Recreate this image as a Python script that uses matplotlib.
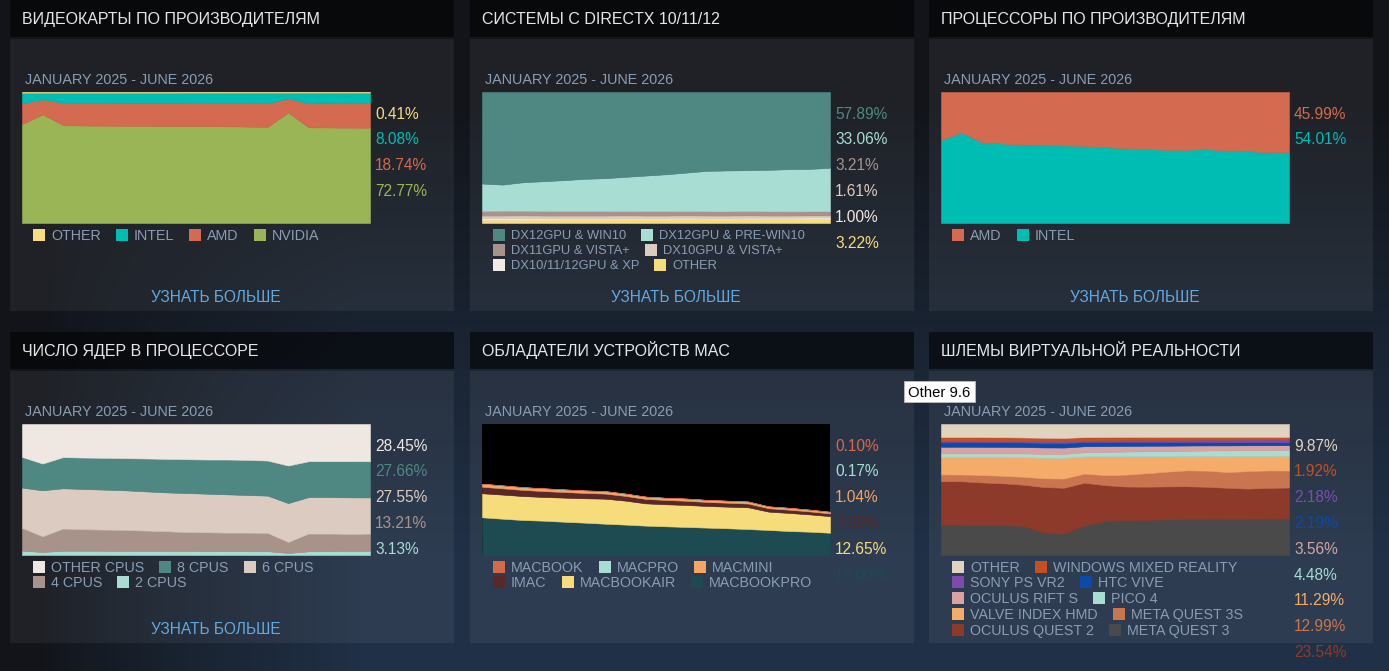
import numpy as np
import matplotlib.pyplot as plt
from matplotlib.patches import Rectangle

W, H = 1389, 671
months = np.arange(18)  # January 2025 ... June 2026, one point per month

# ---- ВИДЕОКАРТЫ ПО ПРОИЗВОДИТЕЛЯМ (legend order = top of stack first)
gpu_names = ['OTHER', 'INTEL', 'AMD', 'NVIDIA']
gpu_colors = ['#f7dc82', '#00bdb4', '#d46a4f', '#9ab555']
gpu_other = [0.5, 0.5, 0.5, 0.5, 0.5, 0.5, 0.5, 0.5, 0.4, 0.4, 0.4, 0.4, 0.4, 0.4, 0.4, 0.4, 0.4, 0.41]
gpu_intel = [8.2, 5.1, 7.7, 7.8, 7.8, 7.9, 7.9, 7.9, 8.1, 8.1, 8.1, 8.1, 8.2, 4.4, 8.3, 8.2, 8.2, 8.08]
gpu_amd = [15.8, 11.5, 17.0, 17.3, 17.4, 17.4, 17.4, 17.5, 17.5, 17.5, 17.7, 17.9, 18.0, 10.9, 18.3, 18.5, 18.6, 18.74]
gpu_nvidia = [75.5, 82.9, 74.8, 74.4, 74.3, 74.2, 74.2, 74.1, 74.0, 74.0, 73.8, 73.6, 73.4, 84.3, 73.0, 72.9, 72.8, 72.77]

# ---- СИСТЕМЫ С DIRECTX 10/11/12
dx_names = ['DX12GPU & WIN10', 'DX12GPU & PRE-WIN10', 'DX11GPU & VISTA+',
            'DX10GPU & VISTA+', 'DX10/11/12GPU & XP', 'OTHER']
dx_colors = ['#4f8882', '#a8ddd4', '#a8938a', '#dccbc0', '#f0e9e4', '#f7dc7c']
dx_win10 = [69.9, 70.7, 68.9, 68.1, 67.3, 66.3, 65.8, 64.8, 63.8, 62.8, 61.5, 60.2, 59.9, 59.7, 59.4, 58.9, 58.7, 57.89]
dx_prewin10 = [20.8, 19.9, 21.7, 22.6, 23.5, 24.5, 25.0, 26.0, 27.1, 28.1, 29.3, 30.8, 31.1, 31.2, 31.6, 32.2, 32.3, 33.06]
dx_dx11 = [3.6, 3.7, 3.6, 3.6, 3.5, 3.5, 3.5, 3.4, 3.4, 3.4, 3.4, 3.3, 3.3, 3.3, 3.3, 3.2, 3.2, 3.21]
dx_dx10 = [1.9, 1.9, 1.9, 1.8, 1.8, 1.8, 1.8, 1.8, 1.7, 1.7, 1.7, 1.7, 1.7, 1.7, 1.6, 1.6, 1.6, 1.61]
dx_xp = [1.2, 1.2, 1.2, 1.2, 1.1, 1.1, 1.1, 1.1, 1.1, 1.1, 1.1, 1.0, 1.0, 1.0, 1.0, 1.0, 1.0, 1.00]
dx_other = [2.6, 2.6, 2.7, 2.7, 2.8, 2.8, 2.8, 2.9, 2.9, 2.9, 3.0, 3.0, 3.0, 3.1, 3.1, 3.1, 3.2, 3.22]

# ---- ПРОЦЕССОРЫ ПО ПРОИЗВОДИТЕЛЯМ
cpu_names = ['AMD', 'INTEL']
cpu_colors = ['#d46a4f', '#00bdb4']
cpu_amd = [36.7, 30.9, 38.5, 39.3, 40.3, 40.6, 40.8, 41.1, 42.1, 42.9, 43.6, 44.1, 44.1, 43.6, 44.9, 45.2, 45.9, 45.99]
cpu_intel = [63.3, 69.1, 61.5, 60.7, 59.7, 59.4, 59.2, 58.9, 57.9, 57.1, 56.4, 55.9, 55.9, 56.4, 55.1, 54.8, 54.1, 54.01]

# ---- ЧИСЛО ЯДЕР В ПРОЦЕССОРЕ
core_names = ['OTHER CPUS', '8 CPUS', '6 CPUS', '4 CPUS', '2 CPUS']
core_colors = ['#eee7e2', '#4f8882', '#dccbc0', '#a8938a', '#a8ddd4']
core_other = [25.1, 30.2, 25.3, 25.6, 25.8, 26.1, 26.3, 26.6, 26.9, 27.1, 27.1, 27.4, 27.9, 31.7, 28.4, 28.4, 28.4, 28.45]
core_8 = [23.5, 20.4, 23.8, 24.0, 24.3, 24.5, 25.1, 25.6, 25.8, 26.1, 26.6, 26.8, 26.8, 28.7, 27.4, 27.4, 27.6, 27.66]
core_6 = [30.7, 35.1, 30.7, 30.7, 30.5, 30.2, 29.9, 29.6, 29.7, 29.4, 29.2, 28.7, 28.4, 29.6, 27.8, 27.8, 27.9, 27.55]
core_4 = [17.4, 12.0, 17.0, 16.5, 16.2, 16.1, 15.6, 15.1, 14.5, 14.4, 14.1, 14.1, 14.0, 8.5, 13.6, 13.4, 13.0, 13.21]
core_2 = [3.3, 2.3, 3.2, 3.2, 3.2, 3.1, 3.1, 3.1, 3.1, 3.0, 3.0, 3.0, 2.9, 1.5, 2.8, 3.0, 3.1, 3.13]

# ---- ОБЛАДАТЕЛИ УСТРОЙСТВ MAC (not a full 100% stack)
mac_names = ['MACBOOK', 'MACPRO', 'MACMINI', 'IMAC', 'MACBOOKAIR', 'MACBOOKPRO']
mac_colors = ['#d4694e', '#a8ddd4', '#f5a462', '#5a2828', '#f7dc7c', '#1e4a52']
mac_macbook = [0.15, 0.15, 0.14, 0.14, 0.14, 0.13, 0.13, 0.13, 0.12, 0.12, 0.12, 0.12, 0.11, 0.11, 0.11, 0.10, 0.10, 0.10]
mac_macpro = [0.25, 0.25, 0.24, 0.24, 0.23, 0.23, 0.22, 0.22, 0.21, 0.21, 0.20, 0.20, 0.19, 0.19, 0.18, 0.18, 0.17, 0.17]
mac_macmini = [2.0, 1.9, 1.8, 1.8, 1.7, 1.6, 1.6, 1.5, 1.5, 1.4, 1.4, 1.3, 1.3, 1.3, 1.2, 1.2, 1.1, 1.04]
mac_imac = [5.0, 4.8, 4.7, 4.5, 4.3, 4.1, 3.9, 3.6, 3.4, 3.3, 3.2, 3.1, 3.0, 2.9, 2.6, 2.5, 2.3, 2.09]
mac_air = [18.3, 18.4, 18.3, 18.1, 18.4, 18.6, 19.1, 18.3, 17.0, 16.8, 16.8, 16.5, 16.5, 16.6, 14.0, 13.8, 13.2, 12.65]
mac_pro = [28.8, 27.7, 26.7, 26.2, 25.4, 24.7, 23.9, 23.2, 22.4, 21.9, 21.4, 20.9, 20.4, 19.8, 19.1, 18.3, 17.8, 17.0]

# ---- ШЛЕМЫ ВИРТУАЛЬНОЙ РЕАЛЬНОСТИ
vr_names = ['OTHER', 'WINDOWS MIXED REALITY', 'SONY PS VR2', 'HTC VIVE', 'OCULUS RIFT S',
            'PICO 4', 'VALVE INDEX HMD', 'META QUEST 3S', 'OCULUS QUEST 2', 'META QUEST 3']
vr_colors = ['#e0d3bf', '#c4501f', '#7b4cad', '#0b4aa8', '#d9a3a3',
             '#a8ddd4', '#f5ab6a', '#c97550', '#8e3a2a', '#4a4a4a']
vr_other = [9.8, 9.8, 9.8, 9.9, 10.0, 10.1, 10.1, 9.9, 9.8, 9.8, 9.8, 9.8, 9.8, 9.8, 9.8, 9.8, 9.8, 9.87]
vr_wmr = [3.0, 2.9, 2.9, 2.8, 2.7, 2.7, 2.6, 2.5, 2.5, 2.4, 2.3, 2.3, 2.2, 2.1, 2.1, 2.0, 2.0, 1.92]
vr_psvr2 = [0.8, 0.8, 0.9, 0.9, 1.0, 1.0, 1.1, 1.2, 1.3, 1.4, 1.5, 1.6, 1.7, 1.8, 1.9, 2.0, 2.1, 2.18]
vr_vive = [3.6, 3.6, 3.5, 3.5, 3.4, 3.4, 3.3, 3.2, 3.1, 3.0, 2.9, 2.8, 2.7, 2.6, 2.5, 2.4, 2.3, 2.19]
vr_rifts = [5.1, 5.0, 5.0, 4.9, 4.8, 4.7, 4.6, 4.5, 4.4, 4.3, 4.2, 4.1, 4.0, 3.9, 3.8, 3.7, 3.6, 3.56]
vr_pico4 = [2.5, 2.6, 2.6, 2.7, 2.8, 2.8, 2.8, 3.1, 3.3, 3.5, 3.7, 3.9, 4.0, 4.1, 4.2, 4.3, 4.4, 4.48]
vr_index = [13.3, 13.3, 13.6, 14.1, 14.6, 15.1, 15.1, 13.0, 14.3, 14.0, 13.0, 11.8, 10.9, 11.2, 12.3, 11.7, 11.2, 11.29]
vr_quest3s = [5.1, 5.1, 5.6, 5.6, 5.9, 6.4, 6.7, 6.9, 7.5, 9.0, 10.2, 11.2, 12.1, 12.3, 12.0, 13.3, 13.3, 12.99]
vr_quest2 = [32.8, 32.7, 32.0, 31.4, 30.7, 33.3, 33.2, 32.2, 27.3, 25.6, 25.3, 25.1, 25.0, 24.3, 23.6, 23.0, 23.3, 23.54]
vr_quest3 = [23.0, 22.8, 22.5, 22.3, 21.7, 16.6, 15.6, 22.3, 25.6, 26.3, 26.6, 27.1, 27.4, 27.6, 27.6, 27.6, 27.9, 27.98]

period = 'JANUARY 2025 - JUNE 2026'
link = 'УЗНАТЬ БОЛЬШЕ'

panels = [
    dict(title='ВИДЕОКАРТЫ ПО ПРОИЗВОДИТЕЛЯМ', names=gpu_names, colors=gpu_colors,
         series=[gpu_other, gpu_intel, gpu_amd, gpu_nvidia], full=True, link=True, leg=10.3),
    dict(title='СИСТЕМЫ С DIRECTX 10/11/12', names=dx_names, colors=dx_colors,
         series=[dx_win10, dx_prewin10, dx_dx11, dx_dx10, dx_xp, dx_other], full=True, link=True, leg=9.3),
    dict(title='ПРОЦЕССОРЫ ПО ПРОИЗВОДИТЕЛЯМ', names=cpu_names, colors=cpu_colors,
         series=[cpu_amd, cpu_intel], full=True, link=True, leg=10.3),
    dict(title='ЧИСЛО ЯДЕР В ПРОЦЕССОРЕ', names=core_names, colors=core_colors,
         series=[core_other, core_8, core_6, core_4, core_2], full=True, link=True, leg=10.3),
    dict(title='ОБЛАДАТЕЛИ УСТРОЙСТВ MAC', names=mac_names, colors=mac_colors,
         series=[mac_macbook, mac_macpro, mac_macmini, mac_imac, mac_air, mac_pro],
         full=False, link=False, leg=10.3),
    dict(title='ШЛЕМЫ ВИРТУАЛЬНОЙ РЕАЛЬНОСТИ', names=vr_names, colors=vr_colors,
         series=[vr_other, vr_wmr, vr_psvr2, vr_vive, vr_rifts, vr_pico4, vr_index,
                 vr_quest3s, vr_quest2, vr_quest3], full=True, link=False, leg=10.3),
]

plt.rcParams['font.family'] = ['Liberation Sans', 'DejaVu Sans']

fig = plt.figure(figsize=(W / 100, H / 100), dpi=100)
bg = fig.add_axes([0, 0, 1, 1])

# page background: dark on the left/top, steam-blue towards bottom right
yy, xx = np.mgrid[0:H, 0:W]
sx = np.clip((xx - 40) / 320, 0, 1) ** 0.8
sy = np.clip((yy - 100) / 450, 0, 1) ** 0.9
t = (sx * sy)[..., None]
dark = np.array([18, 20, 25]) / 255
blue = np.array([32, 48, 70]) / 255
bg.imshow(dark + t * (blue - dark), extent=[0, W, H, 0], aspect='auto', zorder=0)
bg.set_xlim(0, W)
bg.set_ylim(H, 0)
bg.axis('off')

renderer = fig.canvas.get_renderer()
LEG = '#8a9db3'


def ptext(x, yc, s, size, color, ha='left', z=3):
    # yc = visual centre of the capital letters (pixels from top)
    base = yc + 0.358 * size * 100 / 72
    return bg.text(x, base, s, fontsize=size, color=color, ha=ha, va='baseline', zorder=z)


panel_x = [10, 470, 929]
header_top = [0, 332]
body_top = [39, 371]
PW, BH, HH = 444, 272, 37
CW, CH = 348, 131

for i, p in enumerate(panels):
    px = panel_x[i % 3]
    r = i // 3
    bg.add_patch(Rectangle((px, header_top[r]), PW, HH, facecolor='black', alpha=0.55, lw=0, zorder=1))
    bg.add_patch(Rectangle((px, body_top[r]), PW, BH, facecolor='white', alpha=0.06, lw=0, zorder=1))
    ptext(px + 12, header_top[r] + 18.5, p['title'], 11.5, '#e4e7ea')

    cl = px + 12
    ct = body_top[r] + 53
    ptext(cl + 3, body_top[r] + 40, period, 10.4, LEG)

    ax = fig.add_axes([cl / W, 1 - (ct + CH) / H, CW / W, CH / H])
    vals = np.array(p['series'], dtype=float)
    if p['full']:
        vals = vals / vals.sum(axis=0) * 100
        ax.set_facecolor('none')
    else:
        ax.set_facecolor('black')
    ax.stackplot(months, *vals[::-1], colors=p['colors'][::-1], linewidth=0.4, edgecolor='face')
    ax.set_xlim(months[0], months[-1])
    ax.set_ylim(0, 100)
    ax.set_xticks([])
    ax.set_yticks([])
    for s in ax.spines.values():
        s.set_visible(False)

    # latest values on the right (the ones below the page edge are not visible)
    for k, (ser, col) in enumerate(zip(p['series'], p['colors'])):
        yk = ct + 21 + 25.8 * k
        if yk < H - 10:
            ptext(cl + CW + 5, yk, f'{ser[-1]:.2f}%', 11.2, col)

    # legend, flowing like inline html
    fs = p['leg']
    step = 15 if fs < 10 else 15.8
    x0 = cl + 11
    x, y = x0, ct + CH + 11.5
    for name, col in zip(p['names'], p['colors']):
        tx = ptext(x + 18, y, name, fs, LEG)
        w = tx.get_window_extent(renderer).width
        if x > x0 and x + 18 + w > cl + CW:
            x, y = x0, y + step
            tx.remove()
            tx = ptext(x + 18, y, name, fs, LEG)
        bg.add_patch(Rectangle((x, y - 6), 12, 12, facecolor=col, lw=0, zorder=2))
        x = x + 18 + w + 15

    if p['link']:
        ptext(px + 205.5, body_top[r] + 257, link, 11.2, '#62a9e2', ha='center')

# hover tooltip seen on the screenshot
bg.add_patch(Rectangle((904, 381), 71, 21, facecolor='white', edgecolor='#bbbbbb', lw=0.6, zorder=10))
ptext(908, 391.5, 'Other 9.6', 10.7, 'black', z=11)

fig.savefig('out.png', dpi=100)
